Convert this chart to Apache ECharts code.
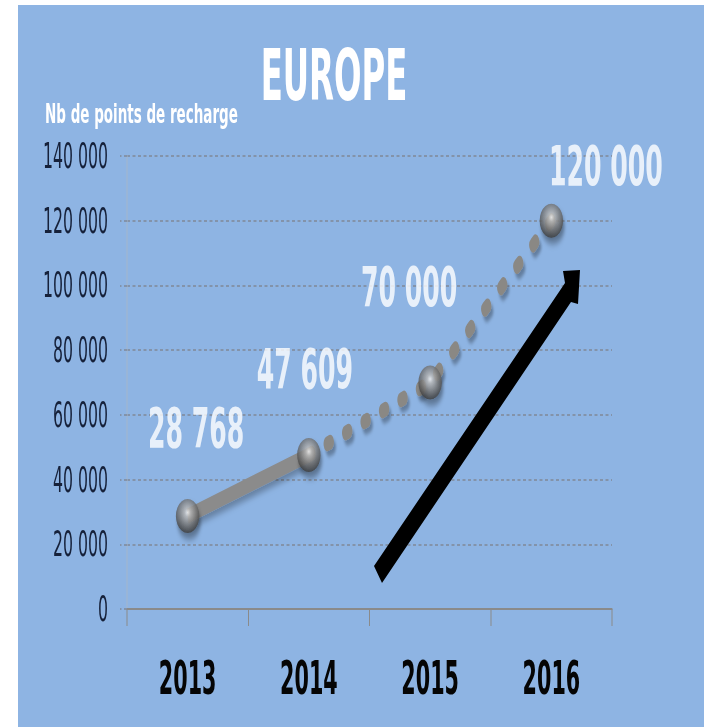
<!DOCTYPE html>
<html>
<head>
<meta charset="utf-8">
<title>EUROPE – Nb de points de recharge</title>
<script src="https://cdn.jsdelivr.net/npm/echarts@6/dist/echarts.min.js"></script>
<style>
  html, body { margin: 0; padding: 0; background: #ffffff; width: 704px; height: 727px; overflow: hidden; }
  /* The panel is laid out at double width and then compressed horizontally,
     which gives the tall narrow lettering and the oval markers */
  #panel {
    position: absolute; left: 18px; top: 5px;
    width: 1372px; height: 722px;
    background: #8EB4E3;
    transform: scaleX(0.5); transform-origin: 0 0;
  }
</style>
</head>
<body>
<div id="panel"></div>
<script>
// ---- data ----
const years = ['2013', '2014', '2015', '2016'];
const chargePoints = [28768, 47609, 70000, 120000];
const yMin = 0;
const yMax = 140000;
const yStep = 20000;
const titleText = 'EUROPE';
const axisTitle = 'Nb de points de recharge';

// ---- layout (panel coordinates, before the horizontal compression) ----
const labelShift = [[17, -89], [-8, -87], [-42, -96], [109, -55]];
const COND = "'DejaVu Sans Condensed', 'DejaVu Sans', sans-serif";
const WIDE = "'DejaVu Sans', sans-serif";

const fmt = v => String(v).replace(/\B(?=(\d{3})+(?!\d))/g, ' ');

// measured part (2013 -> 2014) drawn solid, forecast part (2014 -> 2016) dotted
const measured = chargePoints.map((v, i) => (i <= 1 ? v : '-'));
const forecast = chargePoints.map((v, i) => (i >= 1 ? v : '-'));

const sphere = {
  type: 'radial', x: 0.5, y: 0.4, r: 0.62,
  colorStops: [
    { offset: 0, color: '#f6f6f6' },
    { offset: 0.2, color: '#bdbdbd' },
    { offset: 0.6, color: '#777777' },
    { offset: 1, color: '#353535' }
  ]
};

const chart = echarts.init(document.getElementById('panel'), null, { renderer: 'svg' });

chart.setOption({
  animation: false,
  backgroundColor: 'transparent',
  grid: { left: 218, right: 184, top: 151, bottom: 118, containLabel: false },
  xAxis: {
    type: 'category',
    data: years,
    boundaryGap: true,
    axisLine: { show: true, lineStyle: { color: '#8a8a8a', width: 2 } },
    axisTick: { show: true, alignWithLabel: false, length: 17, lineStyle: { color: '#8a8a8a', width: 2 } },
    axisLabel: {
      margin: 46,
      color: '#050505',
      fontFamily: COND,
      fontWeight: 'bold',
      fontSize: 46,
      lineHeight: 46
    },
    splitLine: { show: false }
  },
  yAxis: {
    type: 'value',
    min: yMin, max: yMax, interval: yStep,
    axisLine: { show: true, lineStyle: { color: '#a4b5cc', width: 2 } },
    axisTick: { show: true, length: 14, lineStyle: { color: '#8393aa', width: 2, type: [6, 5] } },
    axisLabel: {
      margin: 38,
      color: '#16213a',
      fontFamily: COND,
      fontSize: 35,
      formatter: v => fmt(v)
    },
    splitLine: { show: true, lineStyle: { color: '#8393aa', width: 2, type: [6, 5] } }
  },
  graphic: [
    {
      type: 'text', x: 632, y: 70, z: 10,
      style: {
        text: titleText, fill: '#ffffff',
        font: "bold 72px " + COND,
        textAlign: 'center', textVerticalAlign: 'middle',
        align: 'center', verticalAlign: 'middle'
      }
    },
    {
      type: 'text', x: 54, y: 109, z: 10,
      style: {
        text: axisTitle, fill: '#ffffff',
        font: "bold 27px " + WIDE,
        textAlign: 'left', textVerticalAlign: 'middle',
        align: 'left', verticalAlign: 'middle'
      }
    },
    {
      // upward trend arrow
      type: 'polygon', z: 4,
      shape: {
        points: [
          [712, 561], [728, 578], [1106, 297], [1120, 299],
          [1124, 265], [1090, 266], [1094, 278]
        ]
      },
      style: { fill: '#000000' }
    }
  ],
  series: [
    {
      type: 'line',
      data: measured,
      showSymbol: false,
      z: 2,
      lineStyle: {
        color: '#8b8b8b', width: 15, cap: 'butt',
        shadowColor: 'rgba(0,0,0,0.28)', shadowBlur: 6, shadowOffsetX: 4, shadowOffsetY: 5
      }
    },
    {
      type: 'line',
      data: forecast,
      showSymbol: false,
      z: 2,
      lineStyle: {
        color: '#8a8884', width: 15, cap: 'round', type: [6, 32.5],
        shadowColor: 'rgba(0,0,0,0.3)', shadowBlur: 4, shadowOffsetX: 4, shadowOffsetY: 5
      }
    },
    {
      type: 'scatter',
      data: chargePoints.map((v, i) => ({
        value: v,
        label: { offset: labelShift[i] }
      })),
      symbol: 'circle',
      symbolSize: [47, 34],
      z: 5,
      itemStyle: {
        color: sphere,
        shadowColor: 'rgba(0,0,0,0.45)', shadowBlur: 7, shadowOffsetX: 3, shadowOffsetY: 6
      },
      label: {
        show: true,
        position: 'inside',
        color: '#ffffff',
        fontFamily: COND,
        fontWeight: 'bold',
        fontSize: 56,
        formatter: p => fmt(p.value)
      }
    }
  ]
});
</script>
</body>
</html>
